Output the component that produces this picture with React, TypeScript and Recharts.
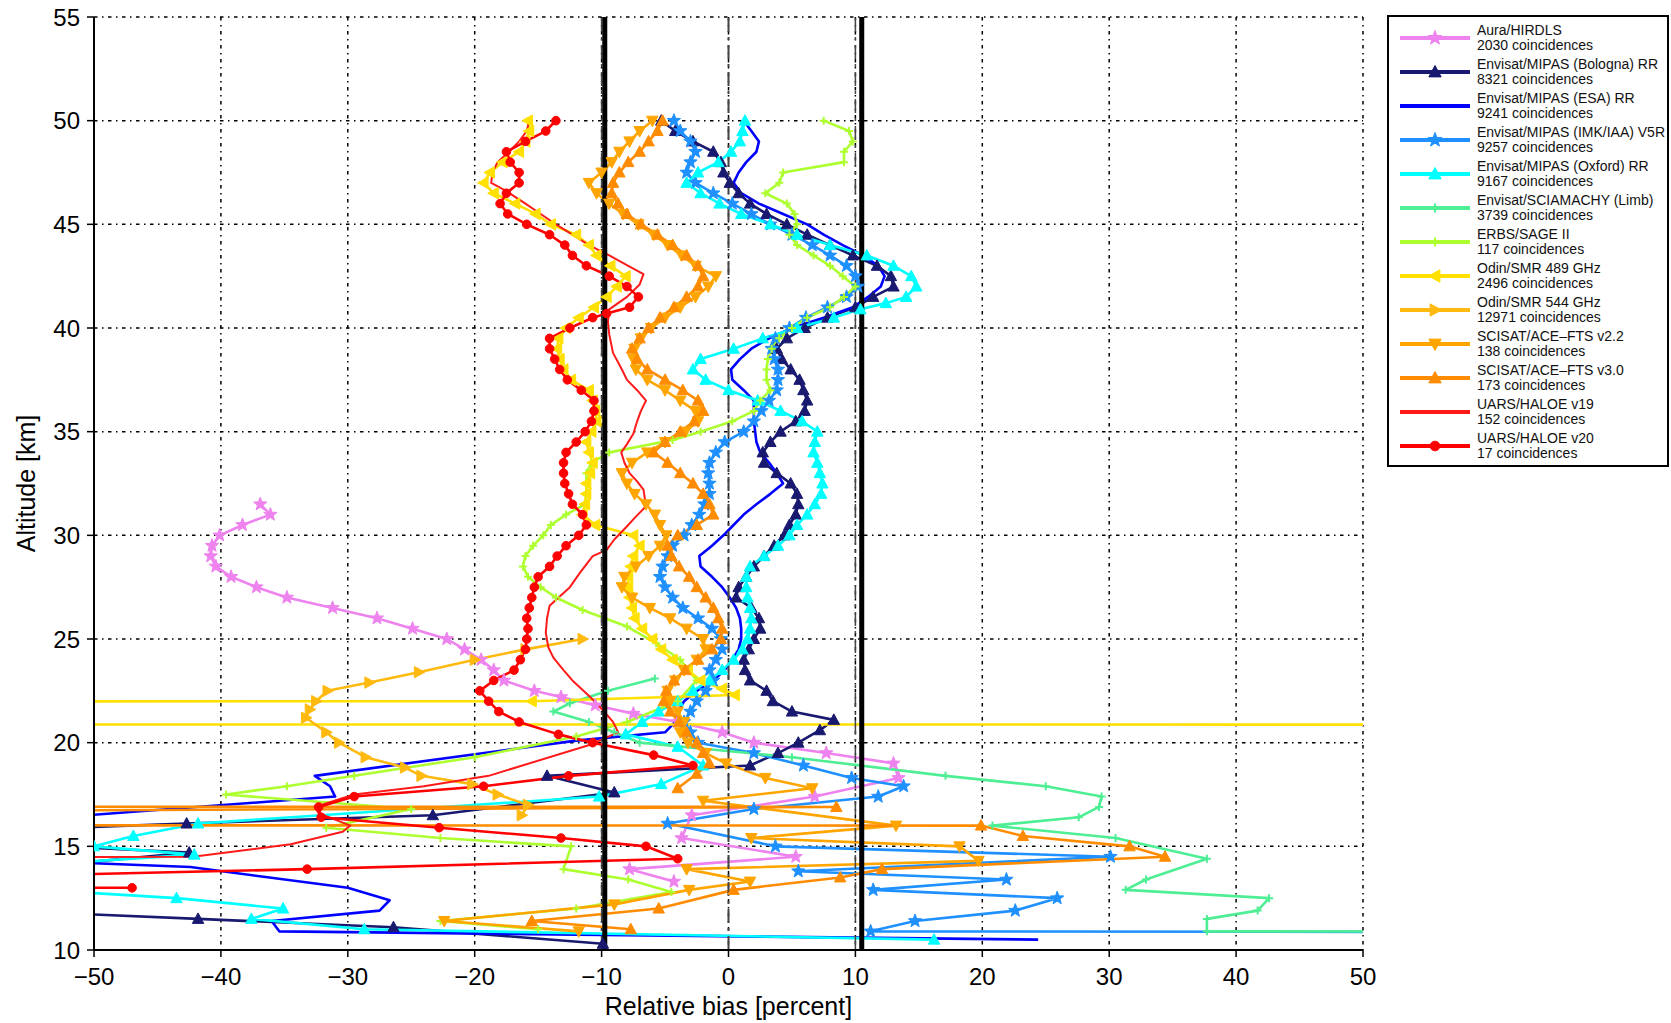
import React from 'react';
import { LineChart, Line, XAxis, YAxis, CartesianGrid, ReferenceLine, Label } from 'recharts';

// Each profile point: [altitude (km), relative bias (%)]; null marks a gap in a profile
type Pt = [number, number] | null;

const xTicks = [-50, -40, -30, -20, -10, 0, 10, 20, 30, 40, 50];
const yTicks = [10, 15, 20, 25, 30, 35, 40, 45, 50, 55];

const hirdls: Pt[] = [
  [31.5, -36.9], [31.0, -36.1], [30.5, -38.3], [30.0, -40.1], [29.5, -40.7], [29.0, -40.8], [28.5, -40.4],
  [28.0, -39.2], [27.5, -37.2], [27.0, -34.8], [26.5, -31.2], [26.0, -27.7], [25.5, -24.9], [25.0, -22.2],
  [24.5, -20.8], [24.0, -19.5], [23.5, -18.5], [23.0, -17.7], [22.5, -15.3], [22.2, -13.2], [21.8, -10.5],
  [21.4, -7.5], [21.0, -4], [20.5, -0.5], [20.0, 2], [19.5, 7.7], [19.0, 13], [18.3, 13.4], [17.4, 6.8],
  [16.5, -2.9], [15.4, -3.7], [14.5, 5.3], [13.9, -7.8], [13.3, -4.3],
];

const mipasBologna: Pt[] = [
  [50, -5.3], [49.5, -4.2], [49, -2.8], [48.5, -1.2], [48, -0.6], [47.5, -0.4], [47, 0.1], [46.5, 0.8],
  [46, 1.7], [45.5, 3], [45, 4.6], [44.5, 6.2], [44, 8], [43.5, 9.8], [43, 11.7], [42.5, 12.8], [42, 13],
  [41.5, 11.4], [41, 10], [40.5, 7.8], [40, 6], [39.5, 4.6], [39, 3.8], [38.5, 4.2], [38, 4.9], [37.5, 5.6],
  [37, 5.9], [36.5, 6.2], [36, 6], [35.5, 5.3], [35, 4.1], [34.5, 3.3], [34, 2.7], [33.5, 2.8], [33, 3.8],
  [32.5, 4.9], [32, 5.4], [31.5, 5.5], [31, 5.3], [30.5, 4.8], [30, 4.4], [29.5, 3.6], [29, 2.8], [28.5, 2],
  [28, 1.4], [27.5, 0.8], [27, 0.6], [26.5, 1.8], [26, 2.4], [25.5, 2.5], [25, 2], [24.5, 1.6], [24, 1.2],
  [23.5, 1.3], [23, 1.7], [22.5, 3], [22, 3.5], [21.5, 5], [21.1, 8.3], [20.6, 7.2], [20, 5.5], [19.5, 3.9],
  [18.9, 1.7], [18.4, -14.3], [17.6, -9], [16.5, -23.3], [16.1, -42.7], [15.5, -70], [14.7, -42.5],
  [12.5, -80], [11.5, -41.8], [11.1, -26.4], [10.3, -9.9],
];

const mipasEsa: Pt[] = [
  [50, 1.2], [49.5, 1.8], [49, 2.4], [48.5, 2.2], [48, 1.4], [47.5, 0.8], [47, 0.4], [46.5, 1], [46, 2.4],
  [45.5, 4.3], [45, 6.2], [44.5, 7.5], [44, 9], [43.5, 10.6], [43, 11.8], [42.5, 12.3], [42, 12], [41.5, 11],
  [41, 9.8], [40.5, 7.5], [40, 5], [39.5, 3.2], [39, 1.8], [38.5, 0.9], [38, 0.2], [37.5, 0.3], [37, 1.2],
  [36.5, 2], [36, 2], [35.5, 2], [35, 2.1], [34.5, 2.2], [34, 2.5], [33.5, 3.2], [33, 3.8], [32.5, 4.3],
  [32, 3.3], [31.5, 2.2], [31, 1.2], [30.5, 0.4], [30, -0.4], [29.5, -1.3], [29, -2.3], [28.5, -2.2],
  [28, -1.3], [27.5, -0.5], [27, 0.1], [26.5, 0.6], [26, 0.9], [25.5, 1], [25, 1], [24.5, 0.8], [24, 0.3],
  [23.5, -0.3], [23, -1.2], [22.5, -2.5], [22, -3.5], [21.5, -4], [21, -4.2], [20.5, -5], [20.1, -12],
  [18.4, -32.6], [17.9, -31.4], [17.4, -31], [15.6, -70], [14.9, -80], [14, -42.4], [13, -30],
  [12.4, -26.7], [11.9, -27.5], [11.4, -36], [10.9, -35.4], [10.5, 24.4],
];

const mipasImk: Pt[] = [
  [50, -4.3], [49.5, -3.8], [49, -3], [48.5, -2.6], [48, -3], [47.5, -3.3], [47, -2.6], [46.5, -1.2],
  [46, 0.3], [45.5, 1.8], [45, 3.3], [44.5, 5], [44, 6.6], [43.5, 8], [43, 9.3], [42.5, 10], [42, 10.2],
  [41.5, 9.3], [41, 7.8], [40.5, 6.1], [40, 4.8], [39.5, 3.7], [39, 3.4], [38.5, 3.6], [38, 3.9], [37.5, 3.9],
  [37, 3.8], [36.5, 3.2], [36, 2.6], [35.5, 2], [35, 1.2], [34.5, -0.3], [34, -1], [33.5, -1.5], [33, -1.6],
  [32.5, -1.5], [32, -1.5], [31.5, -1.9], [31, -2.3], [30.5, -2.9], [30, -3.5], [29.5, -4.4], [29, -4.8],
  [28.5, -5.2], [28, -5.4], [27.5, -5], [27, -4.4], [26.5, -3.6], [26, -2.4], [25.5, -1.3], [25, -0.6],
  [24.5, -0.5], [24, -1], [23.5, -1.5], [23, -1.2], [22.5, -1.8], [22, -2.5], [21.5, -3], [21, -3.5],
  [20.5, -3], [20, -2.4], [19.5, 2], [18.9, 5.9], [18.3, 9.7], [17.9, 13.8], [17.4, 11.8], [16.8, 2],
  [16.1, -4.8], [15, 3.7], [14.5, 30.1], [13.8, 5.5], [13.4, 21.9], [12.9, 11.4], [12.5, 25.9],
  [11.9, 22.6], [11.4, 14.7], [10.9, 11.2], [10.7, 300],
];

const mipasOxford: Pt[] = [
  [50, 1.3], [49.5, 1.1], [49, 0.9], [48.5, 0.2], [48, -0.8], [47.5, -2.4], [47, -3.3], [46.5, -2.2],
  [46, -0.7], [45.5, 1], [45, 3.3], [44.5, 5.4], [44, 8], [43.5, 10.9], [43, 13], [42.5, 14.4], [42, 14.8],
  [41.5, 14], [41.2, 12.4], [40.9, 10.4], [40.5, 8.3], [40, 5.4], [39.5, 2.7], [39, 0.4], [38.5, -2.2],
  [38, -2.8], [37.5, -1.8], [37, 0], [36.5, 2.3], [36, 4.1], [35.5, 5.8], [35, 7], [34.5, 6.8], [34, 6.7],
  [33.5, 7], [33, 7.2], [32.5, 7.4], [32, 7.3], [31.5, 6.8], [31, 6.2], [30.5, 5.4], [30, 4.8], [29.5, 3.9],
  [29, 2.8], [28.5, 1.7], [28, 1.4], [27.5, 1.4], [27, 1.5], [26.5, 1.7], [26, 1.8], [25.5, 1.7], [25, 1.5],
  [24.5, 1.1], [24, 0.4], [23.5, -0.5], [23, -1.5], [22.5, -2.8], [22, -4], [21.5, -5.5], [21, -6.8],
  [20.4, -8.1], [19.8, -4], [18.9, -2], [18, -5.3], [17.4, -10.2], [16.1, -41.8], [15.5, -46.9], [15, -50],
  [14.6, -42.1], [13.5, -70], [12.5, -43.5], [12, -35.1], [11.5, -37.6], [11, -28.7], [10.5, 16.2],
];

const sciamachy: Pt[] = [
  [23.1, -5.8], [22.5, -9.5], [21.9, -12.5], [21.5, -13.8], [21, -11], [20.5, -9], [20, -7], [19.3, 5],
  [18.4, 17.1], [17.9, 25], [17.4, 29.4], [16.9, 29.2], [16.4, 27.6], [16, 20.8], [15.4, 30.5], [14.4, 37.7],
  [13.4, 32.9], [12.9, 31.3], [12.5, 42.6], [11.9, 41.7], [11.5, 37.7], [10.9, 37.7], [10.8, 300],
];

const sage2: Pt[] = [
  [50, 7.5], [49.5, 9.5], [49, 9.8], [48.5, 9.1], [48, 9.1], [47.5, 4.3], [47, 4], [46.5, 2.9], [46, 4.6],
  [45.5, 5.2], [45, 5.4], [44.5, 4.8], [44, 5.4], [43.5, 6.7], [43, 8], [42.5, 9], [42, 10], [41.5, 9.1],
  [41, 8], [40.5, 6.2], [40, 5], [39.5, 4], [39, 3.4], [38.5, 3.1], [38, 3], [37.5, 3], [37, 3.3], [36.5, 2.5],
  [36, 2], [35.5, 0.3], [35, -2.2], [34.6, -4.4], [34, -9.4], [33.5, -10.8], [33, -11.2], [32.5, -11.2],
  [32, -11.2], [31.5, -11.3], [31, -12.8], [30.5, -14], [30, -14.6], [29.5, -15.4], [29, -16], [28.5, -16.2],
  [28, -15.8], [27.5, -14.8], [27, -13.6], [26.4, -11.5], [25.6, -8], [24.8, -5.7], [24, -3.8], [23, -2.5],
  [22, -4], [21, -8], [20.3, -12], [19.3, -20], [18.4, -29.5], [17.9, -34.8], [17.5, -39.6], [16.8, -25],
  [15.9, -31.7], [15.4, -22.7], [15, -12.4], [13.9, -13], [13.4, -7.9], [12.8, -4.5], [12, -12],
  [11.4, -22.7], [11, -15],
];

const smr489: Pt[] = [
  [50, -15.8], [49.5, -15.7], [49, -16], [48.5, -16.5], [48, -17.8], [47.5, -18.8], [47, -19.3], [46.5, -18.5],
  [46, -16.8], [45.5, -15.2], [45, -14], [44.5, -12], [44, -11], [43.5, -10.4], [43, -9.3], [42.5, -8.1],
  [42, -8.8], [41.5, -9.6], [41, -10.6], [40.5, -11.8], [40, -12.8], [39.5, -13.4], [39, -13.5], [38.5, -13.3],
  [38, -13], [37.5, -12.4], [37, -11], [36.5, -10.7], [36, -10.5], [35.5, -10.4], [35, -10.8], [34.5, -11.2],
  [34, -11], [33.5, -10.7], [33, -10.9], [32.5, -11.2], [32, -11.2], [31.5, -11.3], [31, -11.5], [30.5, -10.5],
  [30, -7.5], [29.5, -7], [29, -7.5], [28.5, -7.7], [28, -7.9], [27.5, -7.9], [27, -7.8], [26.5, -7.6],
  [26, -7.4], [25.5, -6.8], [25, -6], [24.5, -5.3], [24, -4.4], [23.5, -3.2], [23, -2.2], [22.6, -0.5],
  [22.3, 0.5], [22.0, -15.5], [21.95, -300], [20.9, -300], [20.85, 300],
];

const smr544: Pt[] = [
  [25, -11.5], [24.5, -16], [24, -20], [23.4, -24.4], [22.9, -28.3], [22.5, -31.6], [22, -32.5], [21.6, -33],
  [21.2, -33.3], [20.5, -31.7], [20, -30.7], [19.3, -28.6], [18.8, -25.5], [18.4, -24.2], [18, -20.2],
  [17.5, -18.2], [17, -15.8], [16.5, -16.3],
];

const aceV22: Pt[] = [
  [50, -6], [49.5, -7], [49, -7.8], [48.5, -8.6], [48, -9.2], [47.5, -10], [47, -11], [46.5, -10.4], [46, -9.4],
  [45.5, -8.3], [45, -7.1], [44.5, -5.9], [44, -4.8], [43.5, -3.7], [43, -2.6], [42.5, -1], [42, -1.6],
  [41.5, -2.6], [41, -3.8], [40.5, -5], [40, -6.1], [39.5, -6.9], [39, -7.4], [38.5, -7.5], [38, -7.3],
  [37.5, -6.4], [37, -5], [36.5, -3.8], [36, -2.6], [35.5, -2.4], [35, -3.4], [34.5, -5], [34, -6.4],
  [33.5, -7.6], [33, -8.4], [32.5, -8], [32, -7.4], [31.5, -6.5], [31, -5.8], [30.5, -5.4], [30, -4.9],
  [29.5, -5.4], [29, -6.3], [28.5, -7.3], [28, -8.2], [27.5, -8.4], [27, -7.6], [26.5, -6.2], [26, -4.6],
  [25.5, -3.3], [25, -2], [24.5, -1.8], [24, -2.5], [23.5, -3.5], [23, -4.2], [22.5, -4.8], [22, -4.6],
  [21.5, -4], [21, -3.5], [20.5, -3.8], [20, -3.2], [19.5, -1.8], [19, -0.2], [18.3, 2.9], [17.8, 6.6],
  [17.2, -2], [16, 13.2], [15.4, 1.8], [15, 18.2], [14.3, 19.7], [13.9, -3.3], [13.3, 1.7], [12.9, -3.1],
  [12.2, -9], [11.4, -22.4], [10.9, -11.8],
];

const aceV30: Pt[] = [
  [50, -5.2], [49.5, -5.6], [49, -6.3], [48.5, -7], [48, -7.9], [47.5, -8.6], [47, -9.1], [46.5, -9.2],
  [46, -8.7], [45.5, -8], [45, -6.9], [44.5, -5.6], [44, -4.4], [43.5, -3.3], [43, -2.4], [42.5, -2],
  [42, -2.4], [41.5, -3.3], [41, -4.3], [40.5, -5.4], [40, -6.3], [39.5, -7], [39, -7.6], [38.5, -7.2],
  [38, -6.4], [37.5, -5], [37, -3.6], [36.5, -2.4], [36, -2], [35.5, -2.7], [35, -3.8], [34.5, -5], [34, -5.9],
  [33.5, -4.8], [33, -3.8], [32.5, -2.8], [32, -2], [31.5, -1.5], [31, -1.2], [30.5, -2.5], [30, -4],
  [29.5, -4.8], [29, -4.5], [28.5, -3.9], [28, -3.1], [27.5, -2.5], [27, -1.8], [26.5, -1.2], [26, -0.8],
  [25.5, -0.5], [25, -0.6], [24.5, -1.3], [24, -2.4], [23.5, -3.4], [23, -4.3], [22.5, -4.9], [22, -5.1],
  [21.5, -4.6], [21, -3.9], [20.5, -3.3], [20, -2.5], [19.5, -2], [19, -1.5], [18.5, -2.5], [17.8, -4],
  null,
  [16.95, -300], [16.9, 8.5], [16.05, -300], [16.0, 19.9], [15.5, 23.2], [15, 31.6], [14.5, 34.4],
  [13.9, 12.1], [13.5, 8.8], [12.9, 0.4], [12, -5.5], [11.4, -15.5], [11, -7.7],
];

const haloeV19: Pt[] = [
  [50, -15.7], [49.5, -15.9], [49, -16.5], [48.5, -17.3], [48, -18.2], [47.5, -18.6], [47, -18.7],
  [46.6, -17.5], [46, -16], [45.5, -14.8], [45, -13.6], [44.5, -12.3], [44, -11], [43.5, -9.4], [43, -7.9],
  [42.6, -6.7], [42.1, -7], [41.5, -8], [40.9, -9.4], [40.3, -9.5], [39.7, -9.4], [38.8, -9.1], [38, -8.4],
  [37.5, -8], [37, -7.2], [36.5, -6.5], [36, -6.9], [35.5, -7.2], [34.9, -7.5], [34.4, -8], [34, -8.45],
  [33.5, -8.2], [33, -7.8], [32.6, -7.2], [32.2, -6.7], [31.4, -6.5], [30.9, -7.3], [30.4, -8.05],
  [29.8, -9], [29.3, -9.6], [29, -10.7], [28.2, -11.7], [27.5, -12.5], [26.6, -14.1], [26, -14.3],
  [25.3, -14.4], [24.6, -14.2], [24.1, -13.8], [23.5, -13], [23, -12.3], [22.2, -10.9], [21.5, -9.8],
  [21, -9.1], [20.5, -8.7], [19.9, -10.9], [18.4, -18.9], [17.9, -24], [17.5, -29.5], [16.9, -32.6],
  [16.6, -32.3], [16, -29.8], [15.7, -30.4], [15.1, -34.5], [14.5, -42.2], [14.1, -300],
];

const haloeV20: Pt[] = [
  [50, -13.6], [49.5, -14.4], [49, -16], [48.5, -17.5], [48, -17.2], [47.5, -16.5], [47, -16.5], [46.5, -17.5],
  [46, -18], [45.5, -17.4], [45, -15.9], [44.5, -14.1], [44, -12.9], [43.5, -12.3], [43, -11.2], [42.5, -9.4],
  [42, -8], [41.5, -7.1], [41, -7.8], [40.7, -9.6], [40.5, -10.7], [40, -12.5], [39.5, -14.1], [39, -14.1],
  [38.5, -13.7], [38, -13.3], [37.5, -12.7], [37, -11.6], [36.5, -10.6], [36, -10.6], [35.5, -10.8],
  [35, -11.3], [34.5, -12], [34, -12.8], [33.5, -13], [33, -13], [32.5, -12.9], [32, -12.6], [31.5, -12.3],
  [31, -11.5], [30.5, -11.2], [30, -11.8], [29.5, -12.8], [29, -13.5], [28.5, -14.1], [28, -15], [27.5, -15.3],
  [27, -15.5], [26.5, -15.7], [26, -15.9], [25.5, -15.8], [25, -15.9], [24.5, -16], [24, -16.4],
  [23.5, -16.9], [23, -18.5], [22.5, -19.6], [22, -18.9], [21.5, -18.1], [21, -16.5], [20.4, -13.4],
  [20, -10.7], [19.4, -5.9], [18.9, -2.8], [18.4, -12.6], [17.9, -19.3], [17.4, -29.5], [16.9, -32.3],
  [16.4, -32.1], [15.9, -22.8], [15.4, -13.2], [15, -6.5], [14.4, -4], [13.9, -33.2], [13.55, -58],
  [13.05, -300], [13, -47],
];

type Shape = 'star' | 'triUp' | 'triDown' | 'triLeft' | 'triRight' | 'plus' | 'dot' | 'none';

interface Series {
  name: string;
  count: number;
  color: string;
  width: number;
  shape: Shape;
  size: number;
  points: Pt[];
}

const series: Series[] = [
  { name: 'Aura/HIRDLS', count: 2030, color: '#EE82EE', width: 2.6, shape: 'star', size: 7, points: hirdls },
  { name: 'Envisat/MIPAS (Bologna) RR', count: 8321, color: '#191970', width: 2.6, shape: 'triUp', size: 6, points: mipasBologna },
  { name: 'Envisat/MIPAS (ESA) RR', count: 9241, color: '#0000FF', width: 2.6, shape: 'none', size: 0, points: mipasEsa },
  { name: 'Envisat/MIPAS (IMK/IAA) V5R', count: 9257, color: '#1E90FF', width: 2.6, shape: 'star', size: 7, points: mipasImk },
  { name: 'Envisat/MIPAS (Oxford) RR', count: 9167, color: '#00FFFF', width: 2.6, shape: 'triUp', size: 6, points: mipasOxford },
  { name: 'Envisat/SCIAMACHY (Limb)', count: 3739, color: '#4EEE94', width: 2.6, shape: 'plus', size: 4, points: sciamachy },
  { name: 'ERBS/SAGE II', count: 117, color: '#ADFF2F', width: 2.6, shape: 'plus', size: 4, points: sage2 },
  { name: 'Odin/SMR 489 GHz', count: 2496, color: '#FFE000', width: 2.6, shape: 'triLeft', size: 6, points: smr489 },
  { name: 'Odin/SMR 544 GHz', count: 12971, color: '#FFB90F', width: 2.6, shape: 'triRight', size: 6, points: smr544 },
  { name: 'SCISAT/ACE\u2013FTS v2.2', count: 138, color: '#FFA500', width: 2.6, shape: 'triDown', size: 6, points: aceV22 },
  { name: 'SCISAT/ACE\u2013FTS v3.0', count: 173, color: '#FF8C00', width: 2.6, shape: 'triUp', size: 6, points: aceV30 },
  { name: 'UARS/HALOE v19', count: 152, color: '#FF1A1A', width: 2, shape: 'none', size: 0, points: haloeV19 },
  { name: 'UARS/HALOE v20', count: 17, color: '#FF0000', width: 2.6, shape: 'dot', size: 4.3, points: haloeV20 },
];

const FONT = '"Liberation Sans", Arial, Helvetica, sans-serif';

function markerPath(shape: Shape, x: number, y: number, s: number): string {
  switch (shape) {
    case 'triUp':
      return `M${x},${y - s}L${x + s * 0.95},${y + s * 0.75}L${x - s * 0.95},${y + s * 0.75}Z`;
    case 'triDown':
      return `M${x},${y + s}L${x + s * 0.95},${y - s * 0.75}L${x - s * 0.95},${y - s * 0.75}Z`;
    case 'triLeft':
      return `M${x - s},${y}L${x + s * 0.75},${y - s * 0.95}L${x + s * 0.75},${y + s * 0.95}Z`;
    case 'triRight':
      return `M${x + s},${y}L${x - s * 0.75},${y - s * 0.95}L${x - s * 0.75},${y + s * 0.95}Z`;
    case 'star': {
      let d = '';
      for (let i = 0; i < 10; i++) {
        const r = i % 2 === 0 ? s : s * 0.42;
        const a = -Math.PI / 2 + (i * Math.PI) / 5;
        d += `${i === 0 ? 'M' : 'L'}${(x + r * Math.cos(a)).toFixed(2)},${(y + r * Math.sin(a)).toFixed(2)}`;
      }
      return d + 'Z';
    }
    case 'plus':
      return `M${x - s},${y}H${x + s}M${x},${y - s}V${y + s}`;
    default:
      return '';
  }
}

function Marker({ shape, x, y, color, size }: { shape: Shape; x: number; y: number; color: string; size: number }) {
  if (shape === 'none') return null;
  if (shape === 'dot') return <circle cx={x} cy={y} r={size} fill={color} stroke={color} strokeWidth={1} />;
  if (shape === 'plus') return <path d={markerPath(shape, x, y, size)} fill="none" stroke={color} strokeWidth={2} />;
  return <path d={markerPath(shape, x, y, size)} fill={color} stroke={color} strokeWidth={1} strokeLinejoin="round" />;
}

const makeDot = (s: Series) => (p: any) => {
  const key = `dot-${s.name}-${p.index}`;
  if (p.cx == null || p.cy == null || !isFinite(p.cx) || !isFinite(p.cy)) return <g key={key} />;
  return (
    <g key={key}>
      <Marker shape={s.shape} x={p.cx} y={p.cy} color={s.color} size={s.size} />
    </g>
  );
};

const toRows = (pts: Pt[]) => pts.map((p) => (p === null ? { alt: null, b: null } : { alt: p[0], b: p[1] }));

const fmtX = (v: number) => (v < 0 ? `\u2212${-v}` : `${v}`);

const tickStyle = { fontSize: 24, fill: '#000', fontFamily: FONT };

function YLabel(props: any) {
  const vb = props.viewBox || { x: 0, y: 17, width: 94, height: 933 };
  const cx = vb.x + 26;
  const cy = vb.y + vb.height / 2;
  return (
    <text
      x={cx}
      y={cy}
      transform={`rotate(-90 ${cx} ${cy})`}
      textAnchor="middle"
      dominantBaseline="central"
      fontSize={25}
      fontFamily={FONT}
      fill="#000"
    >
      Altitude [km]
    </text>
  );
}

function LegendBox() {
  return (
    <div
      style={{
        position: 'absolute',
        left: 1387,
        top: 15,
        width: 282,
        height: 452,
        boxSizing: 'border-box',
        border: '2px solid #000',
        background: '#fff',
        fontFamily: FONT,
      }}
    >
      {series.map((s, i) => {
        const cy = 21.3 + i * 34;
        return (
          <div key={s.name} style={{ position: 'absolute', left: 0, top: 0 }}>
            <svg width={80} height={24} style={{ position: 'absolute', left: 10, top: cy - 12 }}>
              <line x1={1} y1={12} x2={71} y2={12} stroke={s.color} strokeWidth={4} />
              <Marker shape={s.shape} x={36} y={12} color={s.color} size={s.size === 0 ? 0 : s.size + 0.5} />
            </svg>
            <div
              style={{
                position: 'absolute',
                left: 88,
                top: cy - 15,
                fontSize: 14,
                lineHeight: '14.5px',
                color: '#111',
                whiteSpace: 'nowrap',
              }}
            >
              <div>{s.name}</div>
              <div>{s.count} coincidences</div>
            </div>
          </div>
        );
      })}
    </div>
  );
}

export default function App() {
  return (
    <div style={{ position: 'absolute', left: 0, top: 0, width: 1671, height: 1023, background: '#fff', overflow: 'hidden' }}>
      <LineChart width={1671} height={1023} margin={{ top: 17, right: 308, bottom: 0, left: 0 }}>
        <CartesianGrid stroke="#000" strokeWidth={1.5} strokeDasharray="3.5 4.5 1.5 4.5" />
        <XAxis
          dataKey="b"
          type="number"
          domain={[-50, 50]}
          ticks={xTicks}
          allowDataOverflow
          height={73}
          tickFormatter={fmtX}
          tick={tickStyle}
          tickSize={7}
          tickMargin={11}
          axisLine={{ stroke: '#000', strokeWidth: 2 }}
          tickLine={{ stroke: '#000', strokeWidth: 1.5 }}
        >
          <Label value="Relative bias [percent]" position="insideBottom" offset={8} fontSize={25} fontFamily={FONT} fill="#000" />
        </XAxis>
        <XAxis
          xAxisId="top"
          orientation="top"
          type="number"
          domain={[-50, 50]}
          ticks={xTicks}
          allowDataOverflow
          height={0}
          tick={false}
          tickSize={7}
          axisLine={{ stroke: '#000', strokeWidth: 2 }}
          tickLine={{ stroke: '#000', strokeWidth: 1.5 }}
        />
        <YAxis
          type="number"
          domain={[10, 55]}
          ticks={yTicks}
          allowDataOverflow
          width={94}
          tick={tickStyle}
          tickSize={7}
          tickMargin={7}
          axisLine={{ stroke: '#000', strokeWidth: 2 }}
          tickLine={{ stroke: '#000', strokeWidth: 1.5 }}
        >
          <Label content={YLabel} />
        </YAxis>
        <YAxis
          yAxisId="right"
          orientation="right"
          type="number"
          domain={[10, 55]}
          ticks={yTicks}
          allowDataOverflow
          width={0}
          tick={false}
          tickSize={7}
          axisLine={{ stroke: '#000', strokeWidth: 2 }}
          tickLine={{ stroke: '#000', strokeWidth: 1.5 }}
        />
        {series.map((s) => (
          <Line
            key={s.name}
            name={s.name}
            data={toRows(s.points)}
            dataKey="alt"
            type="linear"
            stroke={s.color}
            strokeWidth={s.width}
            strokeLinejoin="round"
            dot={s.shape === 'none' ? false : makeDot(s)}
            activeDot={false}
            isAnimationActive={false}
          />
        ))}
        <ReferenceLine x={0} stroke="#444" strokeWidth={2} strokeDasharray="14 5 3 5" />
        <ReferenceLine x={-10} stroke="#444" strokeWidth={1.5} strokeDasharray="14 5 3 5" />
        <ReferenceLine x={10} stroke="#444" strokeWidth={1.5} strokeDasharray="14 5 3 5" />
        <ReferenceLine x={-9.75} stroke="#000" strokeWidth={5} />
        <ReferenceLine x={10.5} stroke="#000" strokeWidth={5} />
      </LineChart>
      <LegendBox />
    </div>
  );
}
